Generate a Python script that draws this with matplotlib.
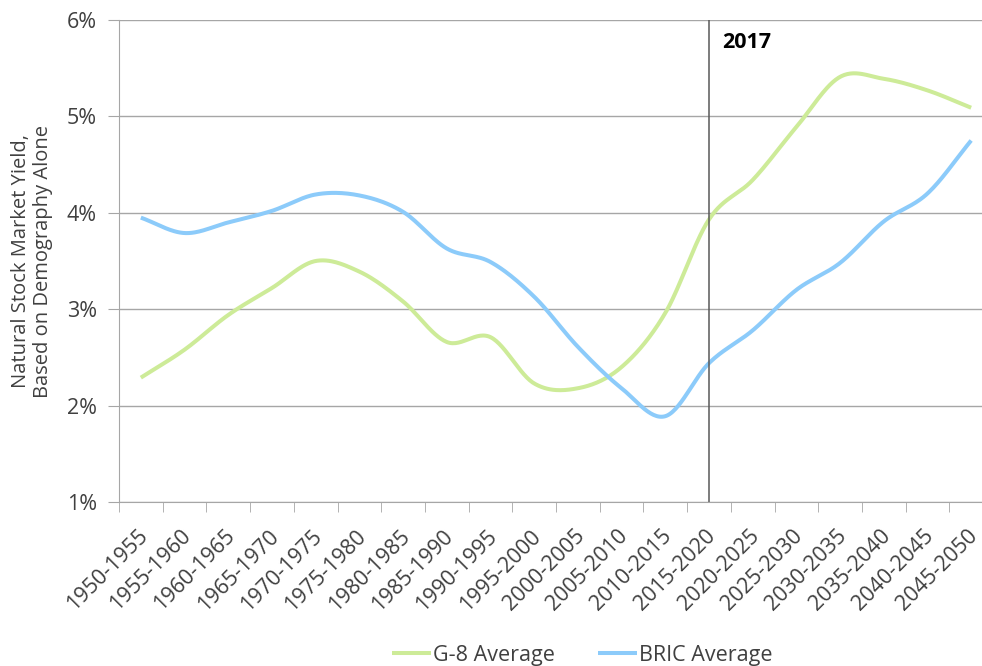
import numpy as np
import matplotlib.pyplot as plt
import matplotlib.transforms as mtransforms

plt.rcParams['font.family'] = ['Open Sans', 'DejaVu Sans']

periods = ['1950-1955', '1955-1960', '1960-1965', '1965-1970', '1970-1975',
           '1975-1980', '1980-1985', '1985-1990', '1990-1995', '1995-2000',
           '2000-2005', '2005-2010', '2010-2015', '2015-2020', '2020-2025',
           '2025-2030', '2030-2035', '2035-2040', '2040-2045', '2045-2050']
g8_avg = [2.29, 2.58, 2.94, 3.22, 3.50, 3.39, 3.08, 2.66, 2.71, 2.23,
          2.18, 2.40, 2.96, 3.93, 4.34, 4.89, 5.41, 5.39, 5.27, 5.09]
bric_avg = [3.95, 3.79, 3.90, 4.02, 4.19, 4.18, 4.01, 3.63, 3.49, 3.13,
            2.61, 2.18, 1.89, 2.44, 2.78, 3.20, 3.48, 3.91, 4.20, 4.75]
marker_idx = 13  # 2015-2020 period holds 2017


def smooth(y, steps=30):
    # Catmull-Rom curve through the points, like a spreadsheet "smoothed line"
    y = np.asarray(y, dtype=float)
    x = np.arange(len(y), dtype=float)
    px = np.concatenate([[2 * x[0] - x[1]], x, [2 * x[-1] - x[-2]]])
    py = np.concatenate([[2 * y[0] - y[1]], y, [2 * y[-1] - y[-2]]])
    xs, ys = [], []
    t = np.linspace(0, 1, steps, endpoint=False)
    for i in range(1, len(px) - 2):
        for arr, out in ((px, xs), (py, ys)):
            p0, p1, p2, p3 = arr[i - 1:i + 3]
            out.extend(0.5 * ((2 * p1) + (-p0 + p2) * t
                              + (2 * p0 - 5 * p1 + 4 * p2 - p3) * t ** 2
                              + (-p0 + 3 * p1 - 3 * p2 + p3) * t ** 3))
    xs.append(x[-1])
    ys.append(y[-1])
    return np.array(xs), np.array(ys)


fig = plt.figure(figsize=(9.82, 6.66), dpi=100)
ax = fig.add_axes([119 / 982, 1 - 502 / 666, 874 / 982, 482 / 666])

green = '#cdeb98'
blue = '#8ccbfa'
gx, gy = smooth(g8_avg)
bx, by = smooth(bric_avg)
ax.plot(gx, gy, color=green, lw=2.9, label='G-8 Average', solid_capstyle='butt')
ax.plot(bx, by, color=blue, lw=2.9, label='BRIC Average', solid_capstyle='butt')

ax.set_xlim(-0.5, len(periods) - 0.5)
ax.set_ylim(1, 6)
ax.set_yticks(range(1, 7))
ax.set_yticklabels([f'{v}%' for v in range(1, 7)])
ax.set_xticks(np.arange(len(periods)))
ax.set_xticklabels(periods, rotation=45, ha='right', rotation_mode='anchor')
ax.set_xticks(np.arange(len(periods) + 1) - 0.5, minor=True)

ax.grid(axis='y', color='#a6a6a6', lw=1)
ax.set_axisbelow(True)
for side in ('top', 'right'):
    ax.spines[side].set_visible(False)
for side in ('left', 'bottom'):
    ax.spines[side].set_color('#a6a6a6')
ax.tick_params(axis='y', length=8, color='#a6a6a6', labelsize=15.5, labelcolor='#404040', pad=8)
ax.tick_params(axis='x', which='major', length=0, labelsize=15.5, labelcolor='#404040', pad=17)
ax.tick_params(axis='x', which='minor', length=7, color='#a6a6a6')

# keep the last slanted label inside the canvas
shift = mtransforms.ScaledTranslation(-4 / 100, 0, fig.dpi_scale_trans)
for lbl in ax.get_xticklabels():
    lbl.set_transform(lbl.get_transform() + shift)

ax.axvline(marker_idx, color='#595959', lw=1.1)
ax.text(marker_idx + 0.3, 5.77, '2017', fontsize=15.5, fontweight='bold', va='center')

ax.set_ylabel('Natural Stock Market Yield,\nBased on Demography Alone',
              fontsize=14.5, color='#404040', labelpad=10, linespacing=1.1)

fig.legend(loc='center left', bbox_to_anchor=(392 / 982, 1 - 655 / 666), ncol=2, frameon=False,
           fontsize=15.5, handlelength=1.8, handletextpad=0.1, columnspacing=2.0,
           labelcolor='#404040', borderpad=0, borderaxespad=0)

fig.savefig('out.png', dpi=100)
